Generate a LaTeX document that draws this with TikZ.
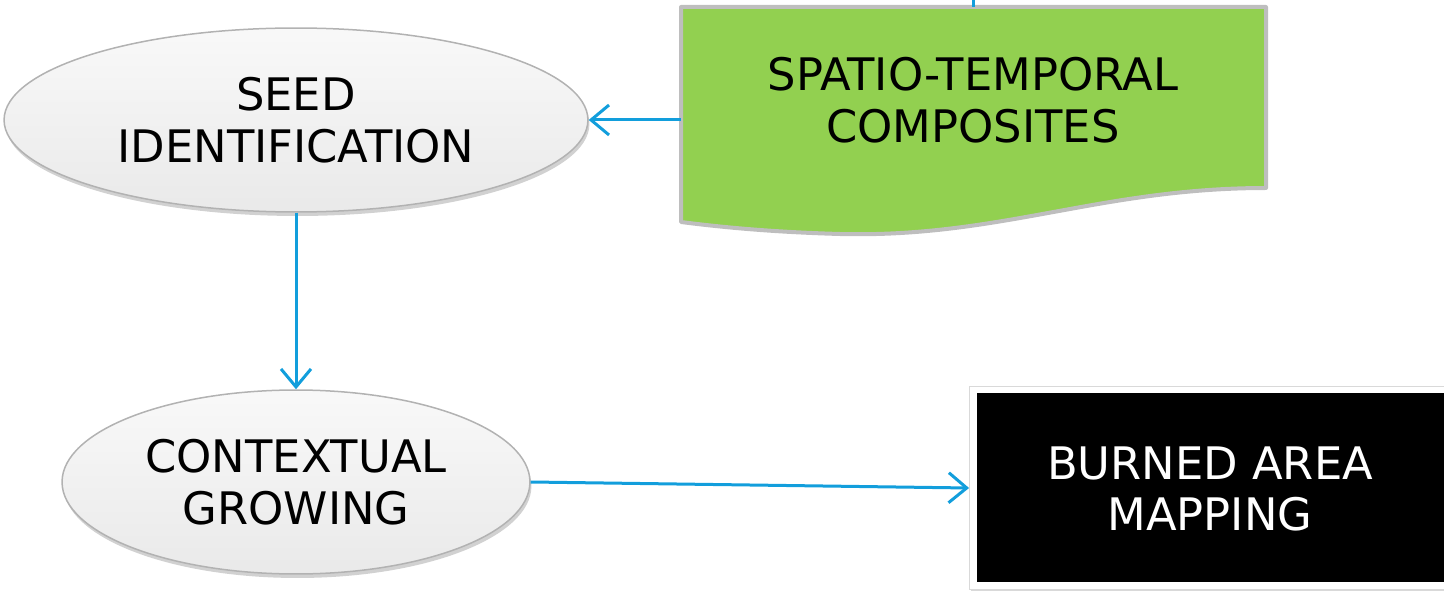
\documentclass[tikz,border=0pt]{standalone}
\usepackage{fontspec}
\setmainfont{DejaVu Sans}
\usetikzlibrary{arrows.meta,shadows,shapes.geometric}
\definecolor{arrblue}{RGB}{18,158,220}
\definecolor{stgreen}{RGB}{146,208,80}
\definecolor{framegray}{RGB}{190,190,190}
\tikzset{
  flowarr/.style={draw=arrblue, line width=0.06cm, -{Straight Barb[length=0.36cm,width=0.6cm,line width=0.06cm]}},
  procell/.style={ellipse, draw=gray!60, line width=0.03cm, top color=gray!5, bottom color=gray!17,
    drop shadow={shadow xshift=0.03cm, shadow yshift=-0.08cm, opacity=0.18, fill=black},
    inner sep=0pt, align=center, font=\fontsize{25.5}{29.5}\selectfont},
  lbl/.style={align=center, font=\fontsize{25.5}{29.5}\selectfont}
}
\begin{document}
\begin{tikzpicture}[x=0.02cm,y=-0.02cm]
\useasboundingbox (0,0) rectangle (1444,591);
\begin{scope}
\clip (0,0) rectangle (1444,591);
% green document shape
\node[minimum width=11.7cm, minimum height=4.26cm, inner sep=0pt] (stc) at (973.5,113.5) {};
\draw[draw=framegray, line width=0.08cm, fill=stgreen, line join=round]
  (681,7) -- (1266,7) -- (1266,188)
  .. controls (1100,188) and (1000,238) .. (840,234)
  .. controls (770,232) and (720,227) .. (681,222) -- cycle;
\node[lbl] (stctext) at (973,100) {SPATIO-TEMPORAL\\COMPOSITES};
\coordinate (topin) at (973,0);
\draw[draw=arrblue, line width=0.06cm] (topin) -- (stc.north -| topin);
% ellipses
\node[procell, minimum width=11.68cm, minimum height=3.68cm] (seed) at (296,120) {SEED\\IDENTIFICATION};
\node[procell, minimum width=9.36cm, minimum height=3.68cm] (ctx) at (296,482) {CONTEXTUAL\\GROWING};
% black box
\node[draw=gray!30, line width=0.02cm, fill=white, minimum width=9.7cm, minimum height=4.08cm, inner sep=0pt,
  drop shadow={shadow xshift=0.02cm, shadow yshift=-0.03cm, opacity=0.15, fill=black}] (bam) at (1212,488) {};
\fill[black] (977,393) rectangle (1460,582);
\node[lbl, text=white] (bamtext) at (1210,489) {BURNED AREA\\MAPPING};
% connectors
\draw[flowarr] (stc.west |- seed.east) -- (seed.east);
\draw[flowarr] (seed.south) -- (ctx.north);
\draw[flowarr] (ctx.east) -- (bam.west);
\end{scope}
\end{tikzpicture}
\end{document}
